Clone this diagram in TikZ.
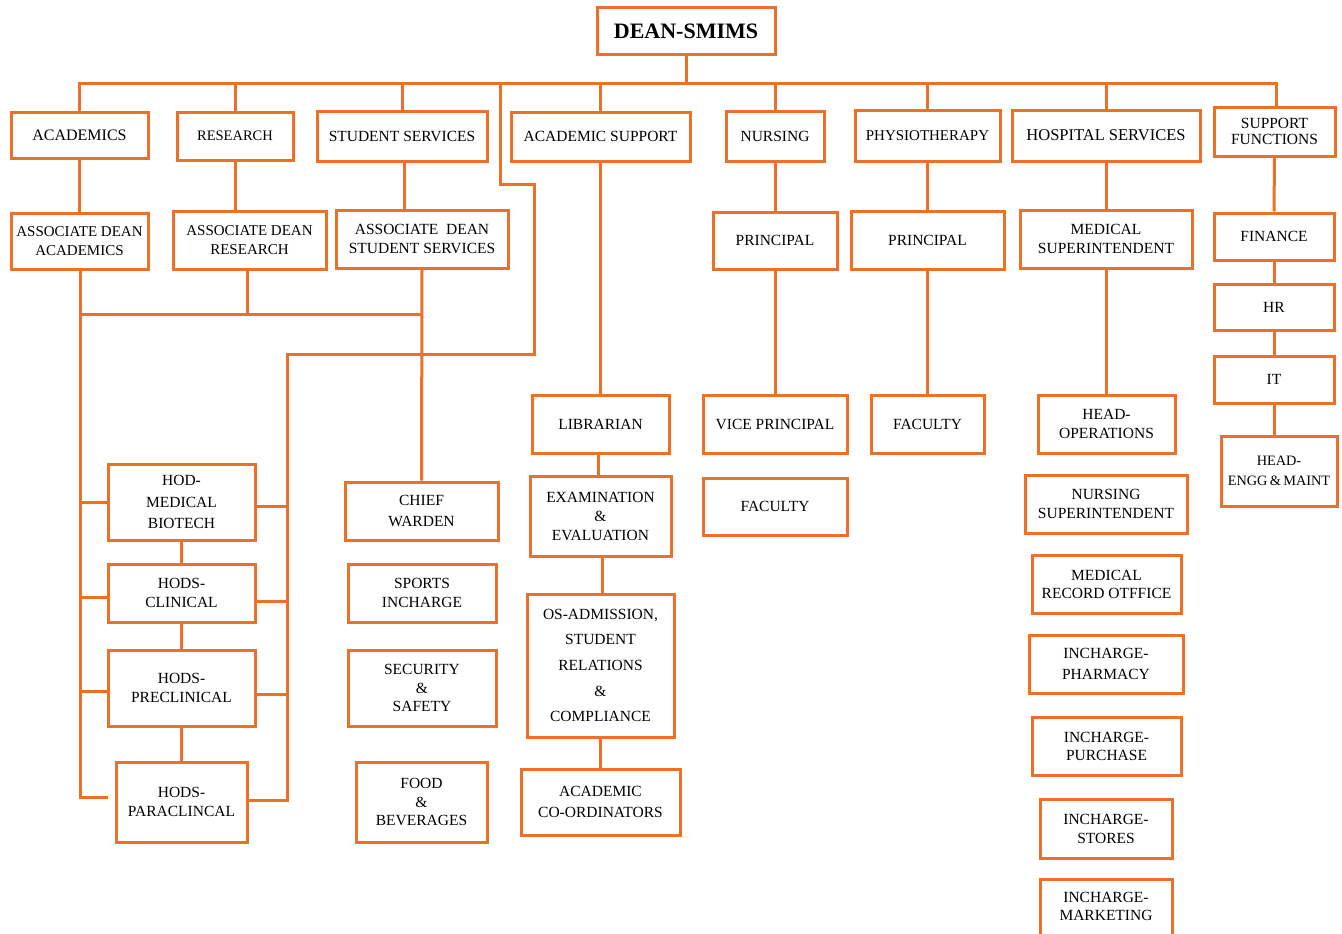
\documentclass[tikz,border=0pt]{standalone}
\usepackage{fontspec}
\setmainfont{Liberation Serif}
\definecolor{org}{RGB}{238,112,38}
\begin{document}
\begin{tikzpicture}[x=1pt,y=-1pt,
  box/.style={draw=org, line width=3pt, inner sep=1pt, align=center, text=black,
    font=\fontsize{15.5}{18.5}\selectfont},
  conn/.style={draw=org, line width=3pt},
]
\useasboundingbox (0,0) rectangle (1342,934);
\clip (0,0) rectangle (1342,934);

% top
\node[box, minimum width=178, minimum height=47, font=\fontsize{22}{26}\selectfont\bfseries] (dean) at (686,31.5) {DEAN-SMIMS};

% first row
\node[box, minimum width=137, minimum height=46, font=\fontsize{16}{18}\selectfont] (acad) at (79.5,135) {ACADEMICS};
\node[box, minimum width=116, minimum height=48, font=\fontsize{14.5}{18}\selectfont] (res) at (235,136) {RESEARCH};
\node[box, minimum width=170, minimum height=50] (ss) at (402,136) {STUDENT SERVICES};
\node[box, minimum width=179, minimum height=49] (asup) at (600.5,136.5) {ACADEMIC SUPPORT};
\node[box, minimum width=98, minimum height=50] (nurs) at (775,136) {NURSING};
\node[box, minimum width=145, minimum height=51, font=\fontsize{15}{18}\selectfont] (phys) at (927.5,135.5) {PHYSIOTHERAPY};
\node[box, minimum width=188, minimum height=51, font=\fontsize{16.5}{18}\selectfont] (hosp) at (1106,135.5) {HOSPITAL SERVICES};
\node[box, minimum width=121, minimum height=49, font=\fontsize{15.5}{15.5}\selectfont] (supf) at (1274.5,131.5) {SUPPORT\\FUNCTIONS};

% second row
\node[box, minimum width=137, minimum height=56, font=\fontsize{15}{18.3}\selectfont] (adacad) at (79.5,241) {ASSOCIATE DEAN\\ACADEMICS};
\node[box, minimum width=153, minimum height=58, font=\fontsize{15}{18.3}\selectfont] (adres) at (249.5,240) {ASSOCIATE DEAN\\RESEARCH};
\node[box, minimum width=172, minimum height=58, font=\fontsize{15.5}{18.3}\selectfont] (adss) at (422,239) {ASSOCIATE\ \ DEAN\\STUDENT SERVICES};
\node[box, minimum width=124, minimum height=57] (princN) at (775,240.5) {PRINCIPAL};
\node[box, minimum width=153, minimum height=58] (princP) at (927.5,240) {PRINCIPAL};
\node[box, minimum width=172, minimum height=58, font=\fontsize{15.5}{19}\selectfont] (medsup) at (1106,239) {MEDICAL\\SUPERINTENDENT};
\node[box, minimum width=120, minimum height=47] (fin) at (1274,236.5) {FINANCE};
\node[box, minimum width=120, minimum height=46] (hr) at (1274,307) {HR};
\node[box, minimum width=120, minimum height=47] (it) at (1274,379.5) {IT};
\node[box, minimum width=116, minimum height=70, font=\fontsize{14.3}{20}\selectfont] (hem) at (1279,471) {HEAD-\\ENGG\,\&\,MAINT};

% academics HODs
\node[box, minimum width=147, minimum height=76, font=\fontsize{15.5}{21.3}\selectfont] (hodmb) at (181.5,502) {HOD-\\MEDICAL\\BIOTECH};
\node[box, minimum width=147, minimum height=58] (hodcl) at (181.5,593) {HODS-\\CLINICAL};
\node[box, minimum width=147, minimum height=76] (hodpre) at (181.5,688) {HODS-\\PRECLINICAL};
\node[box, minimum width=131, minimum height=80] (hodpara) at (181.5,802) {HODS-\\PARACLINCAL};

% student services column
\node[box, minimum width=153, minimum height=58, font=\fontsize{15.5}{21.5}\selectfont] (chief) at (421.5,511) {CHIEF\\WARDEN};
\node[box, minimum width=148, minimum height=58] (sports) at (422,593) {SPORTS\\INCHARGE};
\node[box, minimum width=148, minimum height=76] (secur) at (422,688) {SECURITY\\\&\\SAFETY};
\node[box, minimum width=131, minimum height=80] (food) at (421.5,802) {FOOD\\\&\\BEVERAGES};

% academic support column
\node[box, minimum width=137, minimum height=58] (lib) at (600.5,424) {LIBRARIAN};
\node[box, minimum width=141, minimum height=80, font=\fontsize{15.5}{19}\selectfont] (exam) at (600.5,516) {EXAMINATION\\\&\\EVALUATION};
\node[box, minimum width=147, minimum height=143, font=\fontsize{15.5}{25.6}\selectfont] (osadm) at (600.5,665.5) {OS-ADMISSION,\\STUDENT\\RELATIONS\\\&\\COMPLIANCE};
\node[box, minimum width=159, minimum height=66, font=\fontsize{15.5}{21}\selectfont] (acoord) at (600.5,802) {ACADEMIC\\CO-ORDINATORS};

% nursing / physio
\node[box, minimum width=144, minimum height=58] (vp) at (775,424) {VICE PRINCIPAL};
\node[box, minimum width=144, minimum height=57] (facN) at (775,506.5) {FACULTY};
\node[box, minimum width=113, minimum height=58] (facP) at (927.5,424) {FACULTY};

% hospital column
\node[box, minimum width=137, minimum height=58, font=\fontsize{15.5}{18.7}\selectfont] (headop) at (1106.5,424) {HEAD-\\OPERATIONS};
\node[box, minimum width=162, minimum height=58, font=\fontsize{15.5}{19}\selectfont] (nsup) at (1106,504) {NURSING\\SUPERINTENDENT};
\node[box, minimum width=149, minimum height=58, font=\fontsize{15.5}{18}\selectfont] (mro) at (1106.5,584) {MEDICAL\\RECORD OTFFICE};
\node[box, minimum width=154, minimum height=58, font=\fontsize{15.5}{21}\selectfont] (pharm) at (1106,664) {INCHARGE-\\PHARMACY};
\node[box, minimum width=149, minimum height=58, font=\fontsize{15.5}{18}\selectfont] (purch) at (1106.5,746) {INCHARGE-\\PURCHASE};
\node[box, minimum width=132, minimum height=59, font=\fontsize{15.5}{19}\selectfont] (stores) at (1106,828.5) {INCHARGE-\\STORES};
\node[box, minimum width=132, minimum height=110,
  label={[anchor=north, yshift=-13pt, align=center, inner sep=2pt, text=black, font=\fontsize{15.5}{18}\selectfont]north:{INCHARGE-\\MARKETING}}] (mkt) at (1106,934) {};

% ---- connectors ----
\coordinate (busL) at (79.5,84);
\coordinate (busR) at (1276,84);
\draw[conn] (dean.south) -- (dean.south |- busL);
\draw[conn] (acad.north) -- (busL) -- (busR) -- (supf.north -| busR);
\foreach \n in {res,ss,asup,nurs,phys,hosp}
  \draw[conn] (\n.north) -- (\n.north |- busL);

% loop from bus to HOD right side
\coordinate (k0) at (500,84);
\coordinate (k1) at (500,184);
\coordinate (k2) at (534,184);
\coordinate (k3) at (534,354);
\coordinate (k4) at (287,354);
\coordinate (k5) at (287,800);
\draw[conn] (k0) -- (k1) -- (k2) -- (k3) -- (k4) -- (k5) -- (k5 -| hodpara.east);
\coordinate (r1) at (287,506);
\coordinate (r2) at (287,601);
\coordinate (r3) at (287,694);
\draw[conn] (r1) -- (r1 -| hodmb.east);
\draw[conn] (r2) -- (r2 -| hodcl.east);
\draw[conn] (r3) -- (r3 -| hodpre.east);

% academics / research / student services
\draw[conn] (acad.south) -- (adacad.north);
\draw[conn] (res.south) -- (res.south |- adres.north);
\draw[conn] ([xshift=2pt]ss.south) -- ([xshift=2pt]ss.south |- adss.north);
\coordinate (m1) at (80,314);
\coordinate (l5) at (80,797);
\coordinate (l6) at (108,797);
\draw[conn] (adacad.south -| m1) -- (l5) -- (l6);
\draw[conn] (m1) -- (m1 -| adss.south);
\draw[conn] ([xshift=-2pt]adres.south) -- ([xshift=-2pt]adres.south |- m1);
\draw[conn] (adss.south) -- (chief.north);
\coordinate (q1) at (80,502);
\coordinate (q2) at (80,597);
\coordinate (q3) at (80,691);
\draw[conn] (q1) -- (q1 -| hodmb.west);
\draw[conn] (q2) -- (q2 -| hodcl.west);
\draw[conn] (q3) -- (q3 -| hodpre.west);
\draw[conn] (hodmb.south) -- (hodcl.north);
\draw[conn] (hodcl.south) -- (hodpre.north);
\draw[conn] (hodpre.south) -- (hodpara.north);

% academic support
\draw[conn] (asup.south) -- (lib.north);
\draw[conn] ([xshift=-2pt]lib.south) -- ([xshift=-2pt]exam.north);
\draw[conn] ([xshift=1.5pt]exam.south) -- ([xshift=1.5pt]osadm.north);
\draw[conn] (osadm.south) -- (acoord.north);

% nursing, physio, hospital
\draw[conn] (nurs.south) -- (princN.north);
\draw[conn] (princN.south) -- (vp.north);
\draw[conn] (phys.south) -- (princP.north);
\draw[conn] (princP.south) -- (facP.north);
\draw[conn] (hosp.south) -- (medsup.north);
\draw[conn] (medsup.south) -- (headop.north -| medsup.south);

% support functions
\draw[conn] (supf.south) -- (fin.north);
\draw[conn] (fin.south) -- (hr.north);
\draw[conn] (hr.south) -- (it.north);
\draw[conn] (it.south) -- (it.south |- hem.north);
\end{tikzpicture}
\end{document}
